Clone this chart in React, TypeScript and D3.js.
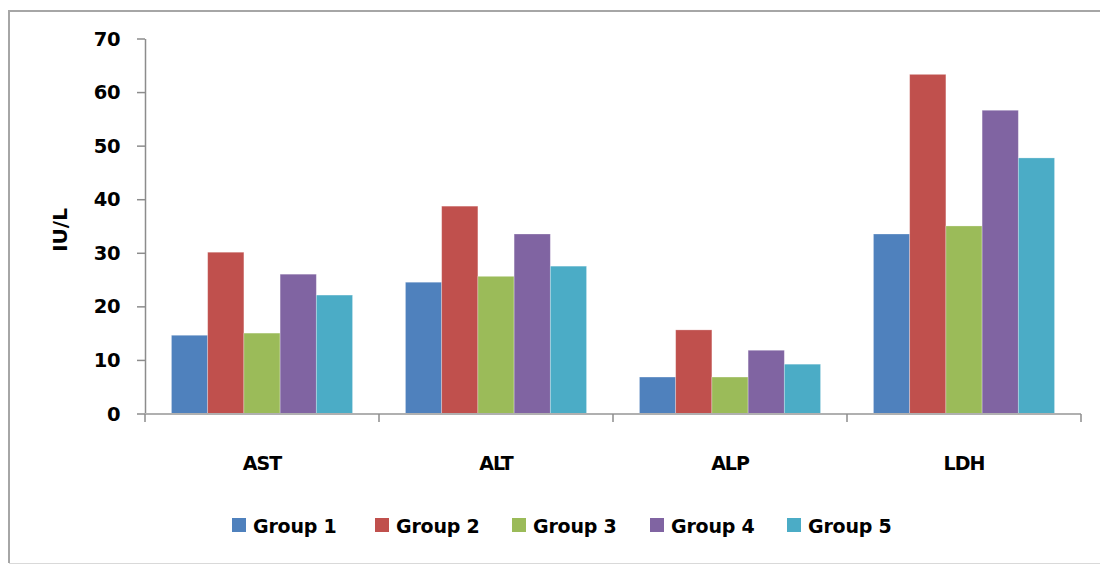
import { scaleBand, scaleLinear } from "d3";

const categories = ["AST", "ALT", "ALP", "LDH"];
const groups = ["Group 1", "Group 2", "Group 3", "Group 4", "Group 5"];
const group1 = [14.7, 24.6, 6.9, 33.6];
const group2 = [30.2, 38.8, 15.7, 63.4];
const group3 = [15.1, 25.7, 6.9, 35.1];
const group4 = [26.1, 33.6, 11.9, 56.7];
const group5 = [22.2, 27.6, 9.3, 47.8];
const yTicks = [0, 10, 20, 30, 40, 50, 60, 70];
const colors = ["#4F81BD", "#C0504D", "#9BBB59", "#8064A2", "#4BACC6"];

const seriesValues = [group1, group2, group3, group4, group5];

const width = 1100;
const height = 565;
const margin = { top: 39, right: 19, bottom: 151, left: 145 };
const innerWidth = width - margin.left - margin.right;
const innerHeight = height - margin.top - margin.bottom;
const font = "'DejaVu Sans', Verdana, sans-serif";

export default function App() {
  const xScale = scaleBand<string>().domain(categories).range([0, innerWidth]).padding(0);
  const groupScale = scaleBand<string>()
    .domain(groups)
    .range([0, xScale.bandwidth()])
    .paddingInner(0)
    .paddingOuter(0.73);
  const yScale = scaleLinear().domain([0, 70]).range([innerHeight, 0]);

  // legend items laid out left to right
  const legendX = [232, 375, 512, 650, 787];

  return (
    <div style={{ position: "absolute", left: 0, top: 0 }}>
      <svg width={width} height={height} viewBox={`0 0 ${width} ${height}`} style={{ display: "block" }}>
        <rect x={0} y={0} width={width} height={height} fill="#fff" />
        <line x1={9} x2={width} y1={11} y2={11} stroke="#a6a6a6" strokeWidth={2} />
        <line x1={9} x2={9} y1={10} y2={563} stroke="#a6a6a6" strokeWidth={2} />
        <line x1={9} x2={width} y1={563.5} y2={563.5} stroke="#d9d9d9" strokeWidth={1} />

        <text
          transform={`translate(60, 230) rotate(-90)`}
          textAnchor="middle"
          dominantBaseline="central"
          fontFamily={font}
          fontWeight="bold"
          fontSize={20}
          fill="#000"
        >
          IU/L
        </text>

        <g transform={`translate(${margin.left}, ${margin.top})`}>
          {seriesValues.map((values, gi) =>
            categories.map((cat, ci) => {
              const x = (xScale(cat) ?? 0) + (groupScale(groups[gi]) ?? 0);
              const y = yScale(values[ci]);
              return (
                <rect
                  key={`${gi}-${ci}`}
                  x={x}
                  y={y}
                  width={groupScale.bandwidth()}
                  height={innerHeight - y}
                  fill={colors[gi]}
                  stroke="rgba(255,255,255,0.35)"
                  strokeWidth={0.8}
                />
              );
            })
          )}

          <line x1={0.5} x2={0.5} y1={0} y2={innerHeight} stroke="#8c8c8c" strokeWidth={1.5} />
          <line x1={0} x2={innerWidth} y1={innerHeight} y2={innerHeight} stroke="#b0b0b0" strokeWidth={2} />

          {yTicks.map((tick) => (
            <g key={tick}>
              <line x1={-8} x2={0} y1={yScale(tick)} y2={yScale(tick)} stroke="#8c8c8c" strokeWidth={1.5} />
              <text
                x={-25}
                y={yScale(tick)}
                textAnchor="end"
                dominantBaseline="central"
                fontFamily={font}
                fontWeight="bold"
                fontSize={19.5}
                letterSpacing={-0.5}
                fill="#000"
              >
                {tick}
              </text>
            </g>
          ))}

          {[...categories.map((c) => xScale(c) ?? 0), innerWidth].map((x, i) => (
            <line key={i} x1={x} x2={x} y1={innerHeight} y2={innerHeight + 8} stroke="#8c8c8c" strokeWidth={1.5} />
          ))}

          {categories.map((cat) => (
            <text
              key={cat}
              x={(xScale(cat) ?? 0) + xScale.bandwidth() / 2}
              y={innerHeight + 49}
              textAnchor="middle"
              dominantBaseline="central"
              fontFamily={font}
              fontWeight="bold"
              fontSize={19}
              letterSpacing={-1}
              fill="#000"
            >
              {cat}
            </text>
          ))}
        </g>

        {groups.map((g, i) => (
          <g key={g} transform={`translate(${legendX[i]}, 518)`}>
            <rect x={0} y={0} width={14} height={14} fill={colors[i]} />
            <text
              x={21}
              y={8}
              dominantBaseline="central"
              fontFamily={font}
              fontWeight="bold"
              fontSize={19}
              letterSpacing={-0.2}
              fill="#000"
            >
              {g}
            </text>
          </g>
        ))}
      </svg>
    </div>
  );
}
